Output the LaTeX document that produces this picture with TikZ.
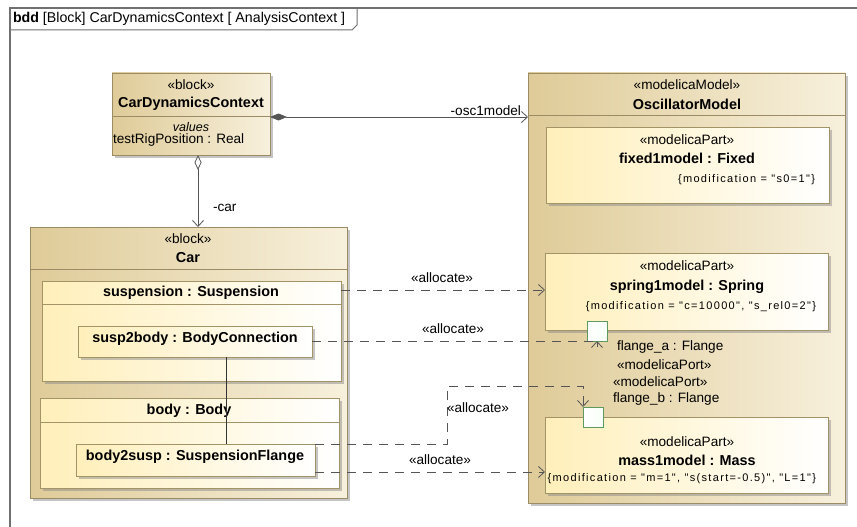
\documentclass[tikz,border=0pt]{standalone}
\usepackage{fontspec}
\setmainfont{Liberation Sans}
\newfontfamily\modfam[LetterSpace=12]{Liberation Sans}
\usetikzlibrary{arrows.meta,shadows}
\definecolor{blkL}{HTML}{DFCB98}
\definecolor{blkR}{HTML}{F7F0DC}
\definecolor{blkB}{HTML}{9C8C66}
\definecolor{prtL}{HTML}{FFEFBA}
\definecolor{prtR}{HTML}{FFFFFF}
\definecolor{prtB}{HTML}{A39468}
\definecolor{portB}{HTML}{5E9A5E}
\definecolor{lineC}{HTML}{555555}
\definecolor{frameC}{HTML}{707070}
\newcommand\fnorm{\fontsize{13.6}{16}\selectfont}
\newcommand\fbold{\fontsize{14.4}{16}\selectfont\bfseries}
\newcommand\fmod{\modfam\fontsize{11}{13}\selectfont}
\begin{document}
\begin{tikzpicture}[x=1pt,y=-1pt,
  shadowed/.style={drop shadow={shadow xshift=3pt,shadow yshift=-3pt,fill=black!45,opacity=0.5}},
  blockbox/.style={draw=blkB,line width=0.8pt,left color=blkL,right color=blkR,anchor=north west,inner sep=0pt,outer sep=0pt,shadowed},
  partbox/.style={draw=prtB,line width=0.8pt,left color=prtL,right color=prtR,anchor=north west,inner sep=0pt,outer sep=0pt,shadowed},
  portbox/.style={draw=portB,line width=0.9pt,left color=white,right color=green!3,minimum size=20pt,inner sep=0pt,outer sep=0pt},
  txt/.style={inner sep=0pt,outer sep=0pt,font=\fnorm},
  btxt/.style={inner sep=0pt,outer sep=0pt,font=\fbold},
  mtxt/.style={inner sep=0pt,outer sep=0pt,font=\fmod,anchor=east},
  divider/.style={draw=blkB,line width=0.8pt},
  assoc/.style={draw=lineC,line width=0.8pt},
  alloc/.style={draw=lineC,line width=0.8pt,dash pattern=on 9pt off 7pt,-{Straight Barb[length=6pt,width=11pt]}},
  tiponly/.style={draw=lineC,line width=0.8pt,-{Straight Barb[length=6pt,width=11pt]}},
]
\useasboundingbox (0,0) rectangle (857,527);
\fill[white] (0,0) rectangle (857,527);
% frame
\draw[frameC,line width=1.2pt] (857,8) -- (10,8) -- (10,527);
\draw[frameC,line width=1pt] (10,30) -- (352,30) -- (357,25) -- (357,8);
\node[txt,anchor=west,font=\fontsize{14.2}{16}\selectfont] (title) at (13,19) {\textbf{bdd} [Block] CarDynamicsContext [ AnalysisContext ]};

% CarDynamicsContext
\node[blockbox,minimum width=158pt,minimum height=82pt] (cdc) at (112,73) {};
\draw[divider] ([yshift=-43pt]cdc.north west) -- ([yshift=-43pt]cdc.north east);
\node[txt] (cdcS) at (191,85) {«block»};
\node[btxt] (cdcN) at (191,104) {CarDynamicsContext};
\node[txt,font=\fontsize{12.5}{14}\selectfont\itshape] (cdcV) at (191,127) {values};
\node[txt,anchor=west] (cdcP) at (113,140) {testRigPosition : Real};

% OscillatorModel
\node[blockbox,minimum width=317pt,minimum height=430pt] (osc) at (528,73) {};
\draw[divider] ([yshift=-42pt]osc.north west) -- ([yshift=-42pt]osc.north east);
\node[txt] (oscS) at (687,85) {«modelicaModel»};
\node[btxt] (oscN) at (687,104) {OscillatorModel};

\node[partbox,minimum width=283pt,minimum height=76pt] (fixed) at (546,127) {};
\node[txt] (fixedS) at (687,140) {«modelicaPart»};
\node[btxt] (fixedN) at (687,158) {fixed1model : Fixed};
\node[mtxt] (fixedM) at (815,180) {\{modification = "s0=1"\}};

\node[partbox,minimum width=283pt,minimum height=77pt] (spring) at (545,253) {};
\node[txt] (springS) at (687,266) {«modelicaPart»};
\node[btxt] (springN) at (687,287) {spring1model : Spring};
\node[mtxt] (springM) at (816,307) {\{modification = "c=10000", "s\_rel0=2"\}};

\node[partbox,minimum width=283pt,minimum height=76pt] (mass) at (545,417) {};
\node[txt] (massS) at (687,442) {«modelicaPart»};
\node[btxt] (massN) at (687,460) {mass1model : Mass};
\node[mtxt] (massM) at (816,479) {\{modification = "m=1", "s(start=-0.5)", "L=1"\}};

\node[portbox] (fa) at (597,331) {};
\node[portbox] (fb) at (593,417) {};
\node[txt,anchor=west] (faN) at (617,347) {flange\_a : Flange};
\node[txt,anchor=west] (faS) at (617,365) {«modelicaPort»};
\node[txt,anchor=west] (fbS) at (613,382) {«modelicaPort»};
\node[txt,anchor=west] (fbN) at (613,399) {flange\_b : Flange};

% Car
\node[blockbox,minimum width=317pt,minimum height=271pt] (car) at (30,227) {};
\draw[divider] ([yshift=-42pt]car.north west) -- ([yshift=-42pt]car.north east);
\node[txt] (carS) at (188,239) {«block»};
\node[btxt] (carN) at (188,258) {Car};

\node[partbox,minimum width=299pt,minimum height=100pt] (susp) at (42,281) {};
\draw[draw=prtB,line width=0.8pt] ([yshift=-23pt]susp.north west) -- ([yshift=-23pt]susp.north east);
\node[btxt] (suspN) at (191,293) {suspension : Suspension};
\node[partbox,minimum width=234pt,minimum height=31pt] (s2b) at (78,326) {};
\node[btxt] (s2bN) at (195,339) {susp2body : BodyConnection};

\node[partbox,minimum width=299pt,minimum height=90pt] (body) at (40,398) {};
\draw[draw=prtB,line width=0.8pt] ([yshift=-24pt]body.north west) -- ([yshift=-24pt]body.north east);
\node[btxt] (bodyN) at (189,411) {body : Body};
\node[partbox,minimum width=239pt,minimum height=32pt] (b2s) at (76,444) {};
\node[btxt] (b2sN) at (195,457) {body2susp : SuspensionFlange};

% connector between parts
\coordinate (k1) at ([xshift=31pt]s2b.south);
\draw[draw=black!80,line width=0.8pt] (k1) -- (k1 |- b2s.north);

% composition
\coordinate (c1) at ([yshift=-3pt]cdc.east);
\draw[assoc,{Diamond[fill=lineC,length=17pt,width=7pt]}-{Straight Barb[length=6pt,width=11pt]}] (c1) -- (c1 -| osc.west);
\node[txt,anchor=east] (oscL) at (521,111) {-osc1model};

% aggregation
\coordinate (g1) at ([xshift=7pt]cdc.south);
\draw[assoc,{Diamond[open,fill=white,length=15pt,width=7pt]}-{Straight Barb[length=6pt,width=11pt]}] (g1) -- (g1 |- car.north);
\node[txt,anchor=west] (carL) at (213,208) {-car};

% allocations
\coordinate (a1) at ([yshift=-9pt]susp.north east);
\draw[alloc] (a1) -- (a1 -| spring.west);
\node[txt] (a1L) at (442,278) {«allocate»};

\draw[dash pattern=on 9pt off 7pt,draw=lineC,line width=0.8pt] (s2b.east) -- (s2b.east -| fa.south);
\draw[tiponly] ([yshift=-6pt]fa.south) -- (fa.south);
\node[txt] (a2L) at (453,329) {«allocate»};

\coordinate (a3) at (447,386);
\draw[alloc] (b2s.north east) -| (a3) -| (fb.north west);
\node[txt] (a3L) at (478,408) {«allocate»};

\coordinate (a4) at ([yshift=4pt]b2s.south east);
\draw[alloc] (a4) -- (a4 -| mass.west);
\node[txt] (a4L) at (440,460) {«allocate»};
\end{tikzpicture}
\end{document}
